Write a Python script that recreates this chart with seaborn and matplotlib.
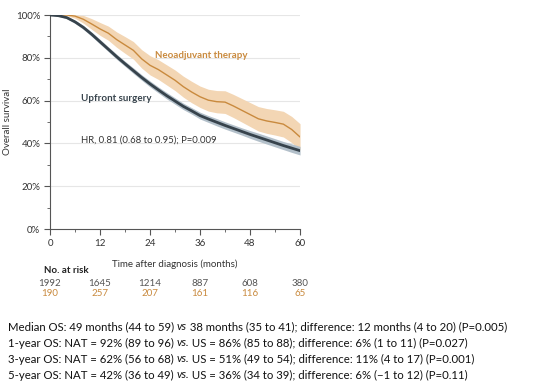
import numpy as np
import pandas as pd
import seaborn as sns
import matplotlib.pyplot as plt
from matplotlib.ticker import MultipleLocator, FuncFormatter


MONTHS = list(range(0, 61, 2))

NAT_SURV = [100, 100, 100, 99.5, 98.0, 95.8, 93.5, 91.5, 88.5, 86.0, 83.5, 79.5, 76.5, 74.5, 72.0, 69.5,
            66.5, 64.0, 61.8, 60.2, 59.5, 59.3, 57.5, 55.5, 53.5, 51.5, 50.5, 49.8, 49.0, 46.5, 43.0]
NAT_HI = [100, 100, 100, 100, 99.8, 98.3, 96.5, 94.8, 92.1, 89.9, 87.6, 83.8, 81.0, 79.1, 76.7, 74.3,
          71.4, 69.0, 66.8, 65.3, 64.7, 64.6, 62.9, 61.0, 59.1, 57.2, 56.3, 55.7, 55.0, 52.6, 49.2]
NAT_LO = [100, 100, 99.7, 98.5, 96.2, 93.3, 90.5, 88.2, 84.9, 82.1, 79.4, 75.2, 72.0, 69.9, 67.3, 64.7,
          61.6, 59.0, 56.8, 55.1, 54.3, 54.0, 52.1, 50.0, 47.9, 45.8, 44.7, 43.9, 43.0, 40.4, 36.8]

US_SURV = [100, 99.7, 98.8, 96.8, 94.2, 91.0, 87.5, 84.0, 80.5, 77.2, 74.0, 70.8, 67.8, 65.0, 62.3, 59.8,
           57.3, 55.2, 53.0, 51.4, 49.9, 48.4, 47.0, 45.6, 44.2, 42.9, 41.6, 40.3, 39.0, 37.8, 36.6]
US_HI = [100, 100, 99.3, 97.5, 95.1, 92.0, 88.6, 85.1, 81.7, 78.4, 75.3, 72.1, 69.2, 66.4, 63.8, 61.3,
         58.8, 56.7, 54.6, 53.0, 51.6, 50.1, 48.7, 47.3, 46.0, 44.8, 43.5, 42.2, 40.9, 39.8, 38.6]
US_LO = [100, 99.4, 98.3, 96.1, 93.3, 90.0, 86.4, 82.9, 79.3, 76.0, 72.7, 69.5, 66.4, 63.6, 60.8, 58.3,
         55.8, 53.7, 51.4, 49.8, 48.2, 46.7, 45.3, 43.9, 42.4, 41.0, 39.7, 38.4, 37.1, 35.8, 34.6]

RISK_TIMES = [0, 12, 24, 36, 48, 60]
RISK_US = [1992, 1645, 1214, 887, 608, 380]
RISK_NAT = [190, 257, 207, 161, 116, 65]

SUMMARY_LINES = [
    ["Median OS: 49 months (44 to 59) ", ("vs", "italic"), " 38 months (35 to 41); difference: 12 months (4 to 20) (P=0.005)"],
    ["1-year OS: NAT = 92% (89 to 96) ", ("vs.", "italic"), " US = 86% (85 to 88); difference: 6% (1 to 11) (P=0.027)"],
    ["3-year OS: NAT = 62% (56 to 68) ", ("vs.", "italic"), " US = 51% (49 to 54); difference: 11% (4 to 17) (P=0.001)"],
    ["5-year OS: NAT = 42% (36 to 49) ", ("vs.", "italic"), " US = 36% (34 to 39); difference: 6% (\u22121 to 12) (P=0.11)"],
]

NAT_COLOR = "#c98a3e"
NAT_BAND = "#f3d6b4"
US_COLOR = "#37434c"
US_BAND = "#b3c0ca"
TEXT_DARK = "#333333"


def main():
    sns.set_theme(style="ticks")
    plt.rcParams["font.family"] = ["Lato", "DejaVu Sans"]

    df = pd.concat([
        pd.DataFrame({"month": MONTHS, "surv": NAT_SURV, "group": "NAT"}),
        pd.DataFrame({"month": MONTHS, "surv": US_SURV, "group": "US"}),
    ])

    fig = plt.figure(figsize=(5.54, 3.90), dpi=100)
    ax = fig.add_axes([0.0903, 0.4128, 0.4513, 0.5487])

    for y in [20, 40, 60, 80, 100]:
        ax.axhline(y, color="#e6e6e6", lw=0.8, zorder=0)

    ax.fill_between(MONTHS, NAT_LO, NAT_HI, color=NAT_BAND, lw=0, zorder=1)
    ax.fill_between(MONTHS, US_LO, US_HI, color=US_BAND, lw=0, zorder=2)
    sns.lineplot(data=df, x="month", y="surv", hue="group",
                 palette={"NAT": NAT_COLOR, "US": US_COLOR}, legend=False, ax=ax, zorder=3)
    for line, lw in zip(ax.get_lines()[-2:], [1.0, 2.0]):
        line.set_linewidth(lw)

    ax.set_xlim(0, 60)
    ax.set_ylim(0, 100)
    ax.xaxis.set_major_locator(MultipleLocator(12))
    ax.xaxis.set_minor_locator(MultipleLocator(6))
    ax.yaxis.set_major_locator(MultipleLocator(20))
    ax.yaxis.set_minor_locator(MultipleLocator(10))
    ax.yaxis.set_major_formatter(FuncFormatter(lambda v, p: f"{v:.0f}%"))
    ax.tick_params(which="major", length=4, width=0.8, color="#555555", labelsize=7, labelcolor=TEXT_DARK, pad=3)
    ax.tick_params(which="minor", length=2, width=0.6, color="#555555")
    for s in ["top", "right"]:
        ax.spines[s].set_visible(False)
    for s in ["left", "bottom"]:
        ax.spines[s].set_color("#555555")
        ax.spines[s].set_linewidth(0.8)
    ax.set_xlabel("")
    ax.set_ylabel("Overall survival", fontsize=7, color=TEXT_DARK, labelpad=3)

    ax.text(25.2, 81, "Neoadjuvant therapy", color=NAT_COLOR, fontsize=7, fontweight="bold", va="center")
    ax.text(7.4, 61, "Upfront surgery", color=US_COLOR, fontsize=7, fontweight="bold", va="center")
    ax.text(7.4, 41.5, "HR, 0.81 (0.68 to 0.95); P=0.009", color=TEXT_DARK, fontsize=6.8, va="center")

    trans = ax.get_xaxis_transform()
    ax.text(30, -0.165, "Time after diagnosis (months)", transform=trans, ha="center", va="center",
            fontsize=7, color=TEXT_DARK)
    ax.text(-1.5, -0.195, "No. at risk", transform=trans, ha="left", va="center",
            fontsize=7, fontweight="bold", color="#222222")
    for t, a, b in zip(RISK_TIMES, RISK_US, RISK_NAT):
        ax.text(t, -0.255, str(a), transform=trans, ha="center", va="center", fontsize=7, color="#555555")
        ax.text(t, -0.303, str(b), transform=trans, ha="center", va="center", fontsize=7, color=NAT_COLOR)

    y0 = 1 - 327 / 390
    for i, parts in enumerate(SUMMARY_LINES):
        y = y0 - i * 16 / 390
        prev = None
        for part in parts:
            text, style = (part, "normal") if isinstance(part, str) else part
            if prev is None:
                prev = fig.text(8 / 554, y, text, fontsize=8.2, style=style, va="center", color="#111111")
            else:
                prev = ax.annotate(text, xy=(1, 0.5), xycoords=prev, va="center", ha="left",
                                   fontsize=8.2, style=style, color="#111111", annotation_clip=False)

    fig.savefig("out.png", dpi=100)


if __name__ == "__main__":
    main()
